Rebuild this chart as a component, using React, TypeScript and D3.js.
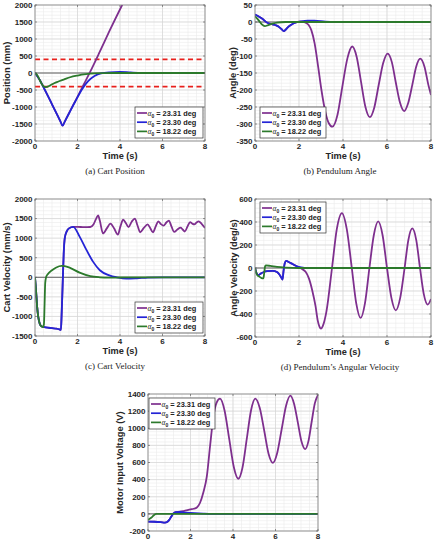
import React from 'react';
import * as d3 from 'd3';

type Pt = [number, number];

// Shared axis / legend content
const timeTicks = [0, 2, 4, 6, 8];
const legendAngles = ['23.31', '23.30', '18.22'];
const lineColors = ['#7E2F8E', '#2424d6', '#2c7a2c'];

// (a) Cart position, mm
const positionTicks = [-2000, -1500, -1000, -500, 0, 500, 1000, 1500, 2000];
const positionLimits = [-400, 400];
const posPurple: Pt[] = [[0, 0], [0.2, -180], [0.5, -540], [0.8, -920], [1.1, -1300], [1.2, -1430], [1.3, -1550], [1.4, -1430], [1.6, -1180], [2.0, -700], [2.3, -330], [2.6, 40], [3.0, 560], [3.5, 1230], [4.1, 2000], [4.3, 2250]];
const posBlue: Pt[] = [[0, 0], [0.2, -180], [0.5, -540], [0.8, -920], [1.1, -1300], [1.2, -1430], [1.3, -1550], [1.4, -1430], [1.6, -1190], [1.9, -830], [2.2, -490], [2.5, -240], [2.8, -90], [3.1, -10], [3.5, 20], [4.0, 30], [4.5, 15], [5.0, 3], [5.5, 0], [8, 0]];
const posGreen: Pt[] = [[0, 0], [0.1, -60], [0.2, -180], [0.3, -300], [0.4, -390], [0.5, -415], [0.7, -370], [0.9, -300], [1.1, -250], [1.35, -195], [1.65, -125], [2.0, -75], [2.4, -35], [2.8, -12], [3.2, -3], [4, 0], [8, 0]];

// (b) Pendulum angle, deg
const angleTicks = [-350, -300, -250, -200, -150, -100, -50, 0, 50];
const angPurple: Pt[] = [[0, 22], [0.15, 17], [0.3, 11], [0.58, -3], [0.8, -7], [0.96, -10], [1.1, -15], [1.19, -20], [1.31, -27], [1.4, -22], [1.5, -15], [1.65, -8], [1.8, -3], [2.0, 1], [2.15, 1], [2.3, -2], [2.43, -8], [2.56, -24], [2.71, -63], [2.87, -131], [3.02, -200], [3.2, -265], [3.35, -297], [3.52, -308], [3.75, -273], [3.97, -190], [4.2, -107], [4.42, -72], [4.62, -102], [4.82, -176], [5.02, -250], [5.22, -280], [5.42, -252], [5.62, -186], [5.83, -120], [6.03, -93], [6.22, -118], [6.4, -178], [6.59, -237], [6.78, -262], [6.96, -239], [7.15, -185], [7.33, -131], [7.51, -108], [7.7, -131], [7.88, -185], [8.0, -215]];
const angBlue: Pt[] = [[0, 22], [0.15, 17], [0.3, 11], [0.58, -3], [0.8, -7], [0.96, -10], [1.1, -15], [1.19, -20], [1.31, -27], [1.4, -22], [1.5, -15], [1.65, -8], [1.8, -3], [2.1, 2], [2.4, 4], [2.7, 4], [3.2, 1], [3.6, 0], [8, 0]];
const angGreen: Pt[] = [[0, 17], [0.1, 10], [0.2, 2], [0.3, -6], [0.45, -12], [0.6, -9], [0.8, -5], [1.0, -2], [1.4, 0], [8, 0]];

// (c) Cart velocity, mm/s
const velocityTicks = [-1500, -1000, -500, 0, 500, 1000, 1500, 2000];
const velPurple: Pt[] = [[0, 0], [0.05, -350], [0.1, -750], [0.15, -1000], [0.22, -1180], [0.3, -1250], [0.5, -1280], [0.8, -1300], [1.0, -1310], [1.15, -1330], [1.22, -1345], [1.25, -1000], [1.3, -200], [1.35, 600], [1.4, 1000], [1.5, 1180], [1.6, 1250], [1.8, 1290], [2.0, 1290], [2.3, 1280], [2.6, 1285], [2.75, 1350], [2.88, 1500], [2.97, 1580], [3.05, 1450], [3.2, 1120], [3.38, 1250], [3.55, 1370], [3.72, 1250], [3.9, 1090], [4.02, 1300], [4.15, 1470], [4.28, 1380], [4.4, 1280], [4.55, 1420], [4.7, 1500], [4.82, 1330], [4.95, 1150], [5.12, 1260], [5.3, 1350], [5.42, 1260], [5.55, 1150], [5.68, 1300], [5.8, 1430], [5.92, 1360], [6.05, 1320], [6.18, 1400], [6.3, 1450], [6.42, 1300], [6.55, 1160], [6.7, 1220], [6.85, 1270], [6.95, 1220], [7.05, 1170], [7.18, 1300], [7.3, 1410], [7.4, 1370], [7.5, 1350], [7.6, 1400], [7.7, 1430], [7.85, 1360], [8.0, 1260]];
const velBlue: Pt[] = [[0, 0], [0.05, -350], [0.1, -750], [0.15, -1000], [0.22, -1180], [0.3, -1250], [0.5, -1280], [0.8, -1300], [1.0, -1310], [1.15, -1330], [1.22, -1345], [1.25, -1000], [1.3, -200], [1.35, 600], [1.4, 1000], [1.5, 1180], [1.6, 1250], [1.8, 1290], [2.1, 1040], [2.42, 700], [2.73, 400], [3.05, 180], [3.5, 50], [3.85, 0], [4.3, -35], [4.8, -25], [5.3, -8], [6, 0], [8, 0]];
const velGreen: Pt[] = [[0, 0], [0.05, -350], [0.1, -750], [0.15, -1000], [0.22, -1180], [0.3, -1250], [0.38, -1270], [0.42, -1200], [0.45, -700], [0.48, -150], [0.52, 0], [0.6, 80], [0.8, 180], [1.0, 250], [1.25, 290], [1.4, 285], [1.65, 240], [2.1, 120], [2.6, 30], [3.05, 0], [3.5, -10], [4.0, -5], [4.5, 0], [8, 0]];

// (d) Pendulum angular velocity, deg/s
const angVelTicks = [-600, -400, -200, 0, 200, 400, 600];
const avPurple: Pt[] = [[0, 0], [0.07, -45], [0.15, -62], [0.25, -50], [0.4, -35], [0.55, -28], [0.8, -25], [1.0, -35], [1.1, -55], [1.2, -85], [1.25, -100], [1.3, -20], [1.35, 40], [1.42, 62], [1.55, 50], [1.7, 35], [1.9, 15], [2.0, 5], [2.15, -10], [2.3, -33], [2.45, -90], [2.6, -193], [2.75, -330], [2.85, -455], [2.93, -510], [3.0, -527], [3.08, -505], [3.25, -375], [3.5, 0], [3.72, 340], [3.95, 478], [4.17, 340], [4.4, 0], [4.6, -305], [4.8, -434], [5.0, -305], [5.2, 0], [5.4, 285], [5.6, 405], [5.8, 285], [6.0, 0], [6.2, -260], [6.4, -368], [6.6, -260], [6.8, 0], [6.97, 243], [7.15, 344], [7.33, 243], [7.5, 0], [7.67, -225], [7.85, -318], [8.0, -270]];
const avBlue: Pt[] = [[0, 0], [0.07, -45], [0.15, -62], [0.25, -50], [0.4, -35], [0.55, -28], [0.8, -25], [1.0, -35], [1.1, -55], [1.2, -85], [1.25, -100], [1.3, -20], [1.35, 40], [1.42, 62], [1.55, 50], [1.7, 35], [1.9, 15], [2.1, 5], [2.4, 0], [8, 0]];
const avGreen: Pt[] = [[0, 0], [0.05, -40], [0.1, -60], [0.2, -75], [0.3, -88], [0.38, -90], [0.42, -40], [0.46, 15], [0.5, 22], [0.7, 18], [1.0, 10], [1.4, 4], [2, 0], [8, 0]];

// (e) Motor input voltage, V
const voltageTicks = [-200, 0, 200, 400, 600, 800, 1000, 1200, 1400];
const vPurple: Pt[] = [[0, -90], [0.3, -92], [0.6, -97], [0.8, -102], [0.9, -95], [1.0, -70], [1.1, -30], [1.2, 5], [1.3, 20], [1.5, 25], [1.67, 33], [2.0, 52], [2.15, 60], [2.3, 75], [2.45, 130], [2.6, 247], [2.77, 441], [2.92, 790], [3.08, 1140], [3.23, 1300], [3.39, 1345], [3.6, 1210], [3.82, 878], [4.04, 545], [4.25, 410], [4.45, 545], [4.65, 878], [4.85, 1210], [5.05, 1346], [5.26, 1236], [5.47, 971], [5.67, 706], [5.88, 596], [6.08, 711], [6.29, 988], [6.5, 1265], [6.7, 1380], [6.87, 1288], [7.05, 1068], [7.22, 848], [7.4, 757], [7.55, 850], [7.7, 1073], [7.85, 1290], [8.0, 1390]];
const vBlue: Pt[] = [[0, -90], [0.3, -92], [0.6, -97], [0.8, -102], [0.9, -95], [1.0, -70], [1.1, -30], [1.2, 5], [1.3, 20], [1.5, 22], [1.8, 15], [2.2, 8], [2.6, 3], [3, 0], [8, 0]];
const vGreen: Pt[] = [[0, -70], [0.1, -55], [0.2, -35], [0.3, -10], [0.4, 0], [8, 0]];

const SANS = 'Liberation Sans, Arial, Helvetica, sans-serif';
const SERIF = 'Liberation Serif, Times New Roman, serif';

type Box = { x: number; y: number; w: number; h: number };

type PanelProps = {
  id: string;
  box: Box;
  yDomain: [number, number];
  yTicks: number[];
  yMinorStep: number;
  series: Pt[][];
  ylabel: string;
  ylabelX: number;
  xlabel?: boolean;
  caption?: string;
  captionX?: number;
  legend: { dx: number; dy: number; w: number };
  dashed?: number[];
};

function Panel(p: PanelProps) {
  const { box } = p;
  const x = d3.scaleLinear().domain([0, 8]).range([box.x, box.x + box.w]);
  const y = d3.scaleLinear().domain(p.yDomain).range([box.y + box.h, box.y]);
  const line = d3
    .line<Pt>()
    .x((d) => x(d[0]))
    .y((d) => y(d[1]))
    .curve(d3.curveMonotoneX);
  const xMinor = d3.range(0, 8.0001, 0.4);
  const yMinor = d3.range(p.yDomain[0], p.yDomain[1] + 1e-6, p.yMinorStep);
  const right = box.x + box.w;
  const bottom = box.y + box.h;
  const lg = { x: box.x + p.legend.dx, y: box.y + p.legend.dy, w: p.legend.w, h: 31 };

  return (
    <g>
      <rect x={box.x} y={box.y} width={box.w} height={box.h} fill="#fff" />
      {xMinor.map((t, i) => (
        <line key={'xm' + i} x1={x(t)} x2={x(t)} y1={box.y} y2={bottom} stroke="#ebebeb" strokeWidth={0.6} />
      ))}
      {yMinor.map((v, i) => (
        <line key={'ym' + i} x1={box.x} x2={right} y1={y(v)} y2={y(v)} stroke="#ebebeb" strokeWidth={0.6} />
      ))}
      {timeTicks.map((t) => (
        <line key={'xg' + t} x1={x(t)} x2={x(t)} y1={box.y} y2={bottom} stroke="#d6d6d6" strokeWidth={0.7} />
      ))}
      {p.yTicks.map((v) => (
        <line key={'yg' + v} x1={box.x} x2={right} y1={y(v)} y2={y(v)} stroke="#d6d6d6" strokeWidth={0.7} />
      ))}
      <line x1={box.x} x2={right} y1={y(0)} y2={y(0)} stroke="#555" strokeWidth={0.9} />
      {(p.dashed || []).map((v) => (
        <line key={'d' + v} x1={box.x} x2={right} y1={y(v)} y2={y(v)} stroke="#e8201c" strokeWidth={1.6} strokeDasharray="5,3.5" />
      ))}
      <clipPath id={p.id}>
        <rect x={box.x} y={box.y} width={box.w} height={box.h} />
      </clipPath>
      <g clipPath={`url(#${p.id})`}>
        {p.series.map((s, i) => (
          <path key={i} d={line(s) || ''} fill="none" stroke={lineColors[i]} strokeWidth={1.8} strokeLinejoin="round" />
        ))}
      </g>
      <rect x={box.x} y={box.y} width={box.w} height={box.h} fill="none" stroke="#8a8a8a" strokeWidth={0.8} />
      {timeTicks.map((t) => (
        <g key={'xt' + t}>
          <line x1={x(t)} x2={x(t)} y1={bottom} y2={bottom - 2} stroke="#555" strokeWidth={0.6} />
          <line x1={x(t)} x2={x(t)} y1={box.y} y2={box.y + 2} stroke="#555" strokeWidth={0.6} />
          <text x={x(t)} y={bottom + 8.3} textAnchor="middle" fontFamily={SANS} fontWeight="bold" fontSize={8} fill="#262626">
            {t}
          </text>
        </g>
      ))}
      {p.yTicks.map((v) => (
        <g key={'yt' + v}>
          <line x1={box.x} x2={box.x + 2} y1={y(v)} y2={y(v)} stroke="#555" strokeWidth={0.6} />
          <line x1={right} x2={right - 2} y1={y(v)} y2={y(v)} stroke="#555" strokeWidth={0.6} />
          <text x={box.x - 2.5} y={y(v) + 2.8} textAnchor="end" fontFamily={SANS} fontWeight="bold" fontSize={8} fill="#262626">
            {v}
          </text>
        </g>
      ))}
      {p.xlabel && (
        <text x={(box.x + right) / 2} y={bottom + 18} textAnchor="middle" fontFamily={SANS} fontWeight="bold" fontSize={9.2} fill="#262626">
          Time (s)
        </text>
      )}
      <text
        transform={`translate(${p.ylabelX},${(box.y + bottom) / 2}) rotate(-90)`}
        textAnchor="middle"
        fontFamily={SANS}
        fontWeight="bold"
        fontSize={9.4}
        fill="#262626"
      >
        {p.ylabel}
      </text>
      {p.caption && (
        <text x={p.captionX} y={bottom + 33} textAnchor="middle" fontFamily={SERIF} fontSize={9} fill="#222">
          {p.caption}
        </text>
      )}
      <rect x={lg.x} y={lg.y} width={lg.w} height={lg.h} fill="#fff" stroke="#333" strokeWidth={0.7} />
      {legendAngles.map((a, i) => {
        const cy = lg.y + 6 + i * 9.2;
        return (
          <g key={'lg' + i}>
            <line x1={lg.x + 2} x2={lg.x + 12} y1={cy} y2={cy} stroke={lineColors[i]} strokeWidth={1.7} />
            <text x={lg.x + 12.5} y={cy + 2.6} fontFamily={SANS} fontWeight="bold" fontSize={7.4} fill="#222">
              <tspan fontFamily={SERIF} fontStyle="italic" fontWeight="normal">α</tspan>
              <tspan dy={2} fontSize={5}>0</tspan>
              <tspan dy={-2}>{' = ' + a + ' deg'}</tspan>
            </text>
          </g>
        );
      })}
    </g>
  );
}

export default function App() {
  return (
    <svg width={436} height={541} style={{ position: 'absolute', left: 0, top: 0, background: '#fff' }}>
      <Panel
        id="clipA"
        box={{ x: 35, y: 5, w: 170, h: 136 }}
        yDomain={[-2000, 2000]}
        yTicks={positionTicks}
        yMinorStep={100}
        series={[posPurple, posBlue, posGreen]}
        ylabel="Position (mm)"
        ylabelX={9.5}
        xlabel
        caption="(a) Cart Position"
        captionX={115}
        legend={{ dx: 100, dy: 102, w: 68 }}
        dashed={positionLimits}
      />
      <Panel
        id="clipB"
        box={{ x: 255, y: 5, w: 176, h: 136 }}
        yDomain={[-350, 50]}
        yTicks={angleTicks}
        yMinorStep={10}
        series={[angPurple, angBlue, angGreen]}
        ylabel="Angle (deg)"
        ylabelX={236}
        xlabel
        caption="(b) Pendulum Angle"
        captionX={340}
        legend={{ dx: 5, dy: 102, w: 66 }}
      />
      <Panel
        id="clipC"
        box={{ x: 35, y: 199, w: 170, h: 137 }}
        yDomain={[-1500, 2000]}
        yTicks={velocityTicks}
        yMinorStep={100}
        series={[velPurple, velBlue, velGreen]}
        ylabel="Cart Velocity (mm/s)"
        ylabelX={10}
        xlabel
        caption="(c) Cart Velocity"
        captionX={115}
        legend={{ dx: 100, dy: 103, w: 68 }}
      />
      <Panel
        id="clipD"
        box={{ x: 255, y: 199, w: 176, h: 138 }}
        yDomain={[-600, 600]}
        yTicks={angVelTicks}
        yMinorStep={40}
        series={[avPurple, avBlue, avGreen]}
        ylabel="Angle Velocity (deg/s)"
        ylabelX={237}
        xlabel
        caption="(d) Pendulum’s Angular Velocity"
        captionX={340}
        legend={{ dx: 5, dy: 3, w: 66 }}
      />
      <Panel
        id="clipE"
        box={{ x: 148, y: 394, w: 170, h: 137 }}
        yDomain={[-200, 1400]}
        yTicks={voltageTicks}
        yMinorStep={40}
        series={[vPurple, vBlue, vGreen]}
        ylabel="Motor Input Voltage (V)"
        ylabelX={123}
        legend={{ dx: 1, dy: 4, w: 66 }}
      />
    </svg>
  );
}
